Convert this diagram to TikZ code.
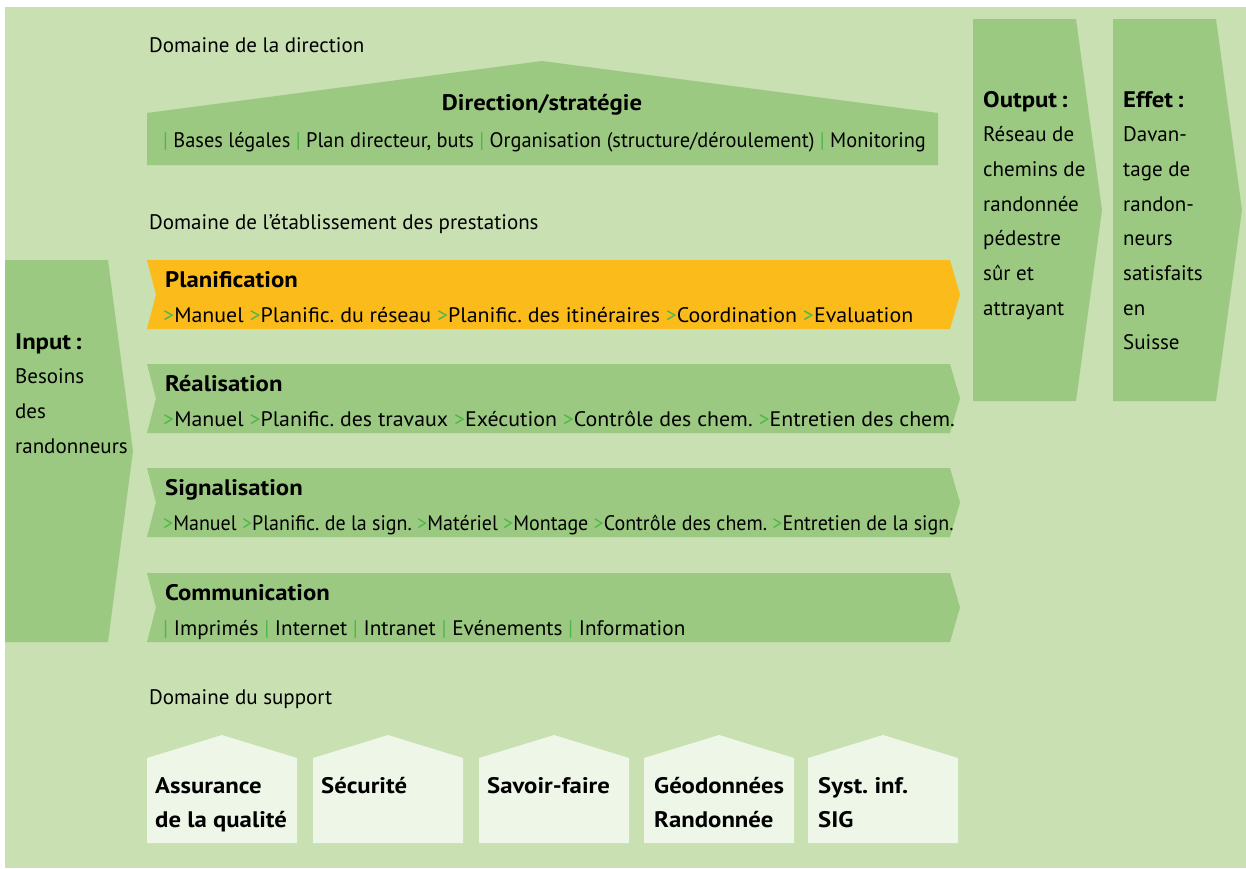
\documentclass[tikz,border=0pt]{standalone}
\usepackage{fontspec}
\setmainfont{PT Sans}[BoldFeatures={FakeStretch=1.1}]
\frenchspacing
\definecolor{bgc}{HTML}{C8E0B2}
\definecolor{band}{HTML}{9CC982}
\definecolor{orng}{HTML}{FBBB1B}
\definecolor{hous}{HTML}{EEF6E8}
\definecolor{sep}{HTML}{4DB848}
\newcommand{\sepgt}{\textcolor{sep}{>}}
\newcommand{\sepbar}{\textcolor{sep}{|}}
\newcommand{\bandshape}[2]{\fill[#2] (147,#1) -- (950,#1) -- (960,#1+34.5) -- (950,#1+69) -- (147,#1+69) -- (156,#1+34.5) -- cycle;}
\newcommand{\houseshape}[1]{\fill[hous] (#1,843) -- (#1,758) -- (#1+75,735) -- (#1+150,758) -- (#1+150,843) -- cycle;}
\tikzset{
  txt/.style={anchor=base west, inner sep=0pt, font=\fontsize{21}{25}\selectfont},
  txts/.style={anchor=base west, inner sep=0pt, font=\fontsize{21}{25}\selectfont\addfontfeature{FakeStretch=#1}},
  ttl/.style={anchor=base west, inner sep=0pt, font=\fontsize{22.5}{26}\selectfont\bfseries},
}
\begin{document}
\begin{tikzpicture}[x=1pt,y=-1pt]
\useasboundingbox (0,0) rectangle (1246,868);
\fill[bgc] (5,7) rectangle (1246,868);

% direction house
\fill[band] (147,165) -- (147,113) -- (542,61) -- (938,113) -- (938,165) -- cycle;
\node[txt] (dom1) at (149,52) {Domaine de la direction};
\node[ttl, anchor=base] (dirt) at (542,110) {Direction/stratégie};
\node[txts=0.97] (dirl) at (163,147) {\sepbar{} Bases légales \sepbar{} Plan directeur, buts \sepbar{} Organisation (structure/déroulement) \sepbar{} Monitoring};

% prestations
\node[txt] (dom2) at (149,229) {Domaine de l’établissement des prestations};
\bandshape{260}{orng}
\node[ttl] (plt) at (165,287) {Planification};
\node[txts=1.043] (pll) at (163,322) {\sepgt Manuel \sepgt Planific. du réseau \sepgt Planific. des itinéraires \sepgt Coordination \sepgt Evaluation};
\bandshape{364}{band}
\node[ttl] (ret) at (165,391) {Réalisation};
\node[txts=1.042] (rel) at (163,426) {\sepgt Manuel \sepgt Planific. des travaux \sepgt Exécution \sepgt Contrôle des chem. \sepgt Entretien des chem.};
\bandshape{468}{band}
\node[ttl] (sit) at (165,495) {Signalisation};
\node[txts=0.952] (sil) at (163,530) {\sepgt Manuel \sepgt Planific. de la sign. \sepgt Matériel \sepgt Montage \sepgt Contrôle des chem. \sepgt Entretien de la sign.};
\bandshape{573}{band}
\node[ttl] (cot) at (165,600) {Communication};
\node[txts=1.01] (col) at (163,635) {\sepbar{} Imprimés \sepbar{} Internet \sepbar{} Intranet \sepbar{} Evénements \sepbar{} Information};

% input
\fill[band] (5,260) -- (108,260) -- (133,451) -- (108,642) -- (5,642) -- cycle;
\node[ttl] (in0) at (15,349) {Input\,:};
\node[txt] (in1) at (15,383) {Besoins};
\node[txt] (in2) at (15,418) {des};
\node[txt] (in3) at (15,453) {randonneurs};

% output
\fill[band] (973,19) -- (1076,19) -- (1102,210) -- (1076,401) -- (973,401) -- cycle;
\node[ttl] (out0) at (983,107) {Output\,:};
\foreach \t [count=\i] in {Réseau de, chemins de, randonnée, pédestre, sûr et, attrayant}
  \node[txt] (out\i) at (983,107+34.7*\i) {\t};

% effet
\fill[band] (1113,19) -- (1216,19) -- (1242,210) -- (1216,401) -- (1113,401) -- cycle;
\node[ttl] (eff0) at (1123,107) {Effet\,:};
\foreach \t [count=\i] in {Davan-, tage de, randon-, neurs, satisfaits, en, Suisse}
  \node[txt] (eff\i) at (1123,107+34.7*\i) {\t};

% support
\node[txt] (dom3) at (149,704) {Domaine du support};
\houseshape{147}
\houseshape{313}
\houseshape{479}
\houseshape{644}
\houseshape{808}
\node[ttl] (s1a) at (155,793) {Assurance};
\node[ttl] (s1b) at (155,827) {de la qualité};
\node[ttl] (s2a) at (321,793) {Sécurité};
\node[ttl] (s3a) at (487,793) {Savoir-faire};
\node[ttl] (s4a) at (654,793) {Géodonnées};
\node[ttl] (s4b) at (654,827) {Randonnée};
\node[ttl] (s5a) at (818,793) {Syst. inf.};
\node[ttl] (s5b) at (818,827) {SIG};
\end{tikzpicture}
\end{document}
